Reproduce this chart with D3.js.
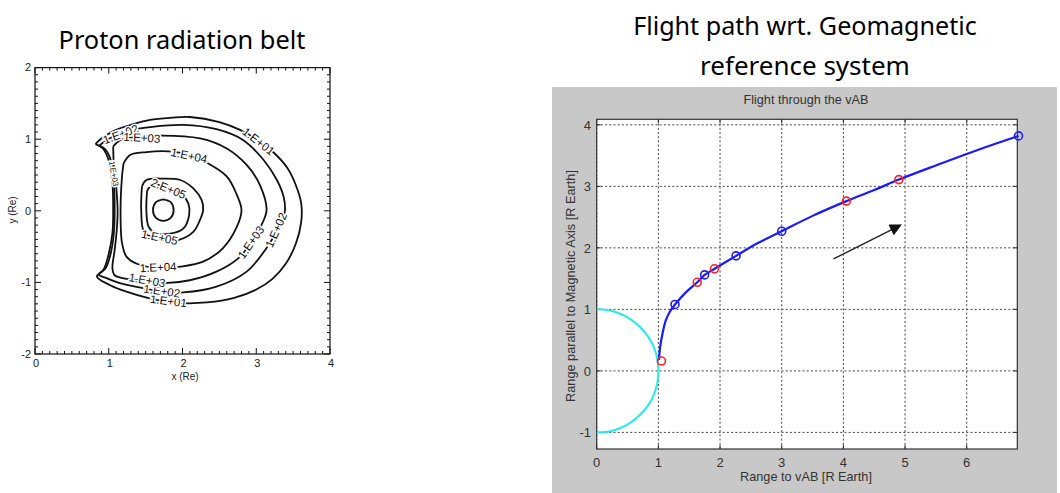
<!DOCTYPE html>
<html><head><meta charset="utf-8">
<script src="https://cdn.jsdelivr.net/npm/d3@7"></script>
<style>body{margin:0;background:#fff}svg{display:block}</style>
</head><body><svg id="c" width="1060" height="493"></svg>
<script>
// ---------------- DATA ----------------
// Left chart: proton radiation belt contours (x, y in Re)
const leftXTicks = [0, 1, 2, 3, 4];
const leftYTicks = [-2, -1, 0, 1, 2];
const contour1E01 = [[0.82,0.93],[0.90,1.01],[1.10,1.13],[1.33,1.21],[1.56,1.27],[1.85,1.30],[2.10,1.31],[2.50,1.24],[2.78,1.13],[3.03,0.98],[3.25,0.80],[3.42,0.60],[3.54,0.35],[3.61,0.10],[3.61,-0.15],[3.54,-0.45],[3.40,-0.74],[3.22,-0.95],[3.00,-1.10],[2.69,-1.22],[2.33,-1.28],[2.00,-1.29],[1.80,-1.27],[1.54,-1.22],[1.24,-1.13],[1.02,-1.04],[0.84,-0.92],[0.93,-0.82],[1.00,-0.60],[1.05,-0.31],[1.06,0.00],[1.05,0.38],[1.00,0.70],[0.92,0.87],[0.82,0.93]];
const contour1E02 = [[0.87,0.91],[0.95,0.97],[1.05,1.03],[1.16,1.08],[1.30,1.13],[1.56,1.17],[2.01,1.20],[2.46,1.14],[2.82,0.99],[3.10,0.71],[3.28,0.43],[3.37,0.20],[3.39,0.01],[3.36,-0.12],[3.27,-0.30],[3.14,-0.52],[2.87,-0.85],[2.46,-1.06],[2.01,-1.14],[1.72,-1.13],[1.46,-1.08],[1.15,-1.01],[0.97,-0.94],[0.87,-0.89],[0.96,-0.80],[1.03,-0.58],[1.07,-0.30],[1.08,0.00],[1.07,0.38],[1.03,0.70],[0.95,0.86],[0.87,0.91]];
const contour1E03 = [[1.06,0.90],[1.18,1.00],[1.45,1.03],[1.69,1.05],[2.24,1.01],[2.60,0.87],[2.87,0.64],[3.05,0.36],[3.14,0.01],[3.07,-0.20],[2.93,-0.44],[2.76,-0.66],[2.46,-0.85],[2.10,-0.97],[1.74,-1.01],[1.52,-0.98],[1.24,-0.95],[1.08,-0.90],[1.05,-0.80],[1.08,-0.55],[1.11,-0.25],[1.12,0.01],[1.10,0.35],[1.07,0.62],[1.06,0.90]];
const contour1E04 = [[1.20,0.66],[1.29,0.78],[1.51,0.82],[1.81,0.83],[2.09,0.78],[2.35,0.66],[2.60,0.48],[2.73,0.24],[2.80,0.01],[2.73,-0.24],[2.55,-0.52],[2.28,-0.71],[1.97,-0.78],[1.67,-0.80],[1.38,-0.74],[1.24,-0.64],[1.18,-0.45],[1.16,0.01],[1.18,0.48],[1.20,0.66]];
const contour1E05 = [[1.45,0.34],[1.51,0.43],[1.74,0.45],[1.97,0.43],[2.15,0.31],[2.26,0.15],[2.28,0.01],[2.24,-0.12],[2.15,-0.29],[1.94,-0.41],[1.80,-0.42],[1.62,-0.38],[1.48,-0.30],[1.44,0.01],[1.45,0.34]];
const contour2E05 = [[1.52,0.28],[1.60,0.37],[1.81,0.31],[2.00,0.22],[2.08,0.10],[2.09,-0.06],[2.01,-0.25],[1.83,-0.32],[1.63,-0.31],[1.54,-0.22],[1.51,0.01],[1.52,0.28]];
const contourCore = [[1.74,0.16],[1.84,0.12],[1.88,0.01],[1.84,-0.10],[1.74,-0.14],[1.64,-0.10],[1.60,0.01],[1.64,0.12],[1.74,0.16]];
const contourLabels = [
  ["1.E+01", 3.03, 0.97, 38], ["1.E+01", 1.81, -1.26, 7],
  ["1.E+02", 1.16, 1.07, -20], ["1.E+02", 3.27, -0.27, -66], ["1.E+02", 1.72, -1.12, 8],
  ["1.E+03", 1.45, 1.02, 3], ["1.E+03", 2.93, -0.44, -55], ["1.E+03", 1.52, -0.97, 10], ["1.E+03", 1.07, 0.52, 80],
  ["1.E+04", 2.09, 0.77, 12], ["1.E+04", 1.67, -0.79, -3],
  ["2.E+05", 1.81, 0.31, 22], ["1.E+05", 1.69, -0.37, 12]
];
// Right chart: flight through the vAB
const rightXTicks = [0, 1, 2, 3, 4, 5, 6];
const rightYTicks = [-1, 0, 1, 2, 3, 4];
const flightPath = [[1.01,0.18],[1.03,0.40],[1.07,0.62],[1.12,0.82],[1.19,0.97],[1.27,1.08],[1.45,1.28],[1.63,1.44],[1.75,1.56],[1.91,1.66],[2.26,1.87],[2.60,2.07],[3.00,2.27],[3.50,2.52],[4.05,2.76],[4.50,2.94],[4.90,3.11],[5.50,3.34],[6.20,3.60],[6.84,3.82]];
const blueMarkers = [[1.27,1.08],[1.75,1.56],[2.26,1.87],[3.00,2.27],[6.84,3.82]];
const redMarkers = [[1.05,0.16],[1.63,1.44],[1.91,1.66],[4.05,2.76],[4.90,3.11]];
const directionArrow = [[3.84,1.82],[4.93,2.37]];
const earthRadius = 1;

// ---------------- DRAW ----------------
const svg = d3.select('#c');
function fit(t, w) {
  const cur = t.node().getComputedTextLength();
  t.attr('font-size', parseFloat(t.attr('font-size')) * w / cur);
}

// ---- Left chart ----
const lx = d3.scaleLinear().domain([0, 4]).range([35, 330]);
const ly = d3.scaleLinear().domain([-2, 2]).range([354, 67.6]);
const L = svg.append('g');
fit(L.append('text').attr('x', 182).attr('y', 49).attr('text-anchor', 'middle')
  .attr('font-family', 'Noto Sans').attr('font-size', 22).attr('fill', '#000')
  .text('Proton radiation belt'), 247);

// ticks (minor every 0.1, major every 1) inward on all four sides
const minorX = d3.range(0, 4.0001, 0.1), minorY = d3.range(-2, 2.0001, 0.1);
const tk = L.append('g').attr('stroke', '#111').attr('stroke-width', 1);
minorX.forEach(v => {
  const major = Math.abs(v - Math.round(v)) < 1e-6, len = major ? 6 : 3;
  tk.append('line').attr('x1', lx(v)).attr('x2', lx(v)).attr('y1', ly(-2)).attr('y2', ly(-2) - len);
  tk.append('line').attr('x1', lx(v)).attr('x2', lx(v)).attr('y1', ly(2)).attr('y2', ly(2) + len);
});
minorY.forEach(v => {
  const major = Math.abs(v - Math.round(v)) < 1e-6, len = major ? 6 : 3;
  tk.append('line').attr('y1', ly(v)).attr('y2', ly(v)).attr('x1', lx(0)).attr('x2', lx(0) + len);
  tk.append('line').attr('y1', ly(v)).attr('y2', ly(v)).attr('x1', lx(4)).attr('x2', lx(4) - len);
});
L.append('rect').attr('x', lx(0)).attr('y', ly(2)).attr('width', lx(4) - lx(0)).attr('height', ly(-2) - ly(2))
  .attr('fill', 'none').attr('stroke', '#111').attr('stroke-width', 1.2);
L.append('g').selectAll('text').data(leftXTicks).join('text')
  .attr('x', d => lx(d) + 1).attr('y', ly(-2) + 13).attr('text-anchor', 'middle')
  .attr('font-family', 'Liberation Sans').attr('font-size', 11).attr('fill', '#222').text(d => d);
L.append('g').selectAll('text').data(leftYTicks).join('text')
  .attr('x', lx(0) - 4).attr('y', d => ly(d)).attr('dy', '0.35em').attr('text-anchor', 'end')
  .attr('font-family', 'Liberation Sans').attr('font-size', 11).attr('fill', '#222').text(d => d);
L.append('text').attr('x', 185).attr('y', 380).attr('text-anchor', 'middle')
  .attr('font-family', 'Liberation Sans').attr('font-size', 10).attr('fill', '#222').text('x (Re)');
L.append('text').attr('transform', 'translate(16,210) rotate(-90)').attr('text-anchor', 'middle')
  .attr('font-family', 'Liberation Sans').attr('font-size', 10).attr('fill', '#222').text('y (Re)');

const cl = d3.line().x(d => lx(d[0])).y(d => ly(d[1])).curve(d3.curveCatmullRom.alpha(0.5));
const contours = [contour1E01, contour1E02, contour1E03, contour1E04, contour1E05, contour2E05, contourCore];
L.append('g').selectAll('path').data(contours).join('path')
  .attr('d', cl).attr('fill', 'none').attr('stroke', '#111').attr('stroke-width', 1.8).attr('stroke-linejoin', 'round');
L.append('g').selectAll('text').data(contourLabels).join('text')
  .attr('transform', d => `translate(${lx(d[1])},${ly(d[2])}) rotate(${d[3]})`)
  .attr('text-anchor', 'middle').attr('dy', '0.35em')
  .attr('font-family', 'Liberation Sans').attr('font-size', d => d[3] === 80 ? 8 : 11.5)
  .attr('fill', '#111').attr('stroke', '#fff').attr('stroke-width', 3).attr('paint-order', 'stroke')
  .text(d => d[0]);

// ---- Right chart ----
const R = svg.append('g');
const tf = 'Noto Sans';
fit(R.append('text').attr('x', 805).attr('y', 35).attr('text-anchor', 'middle')
  .attr('font-family', tf).attr('font-size', 24).text('Flight path wrt. Geomagnetic'), 344);
fit(R.append('text').attr('x', 805).attr('y', 75).attr('text-anchor', 'middle')
  .attr('font-family', tf).attr('font-size', 24).text('reference system'), 210);

R.append('rect').attr('x', 552).attr('y', 87).attr('width', 505).attr('height', 406).attr('fill', '#c8c8c8');
const rx = d3.scaleLinear().domain([0, 6.82]).range([596.7, 1017.3]);
const ry = d3.scaleLinear().domain([-1.27, 4.09]).range([449, 119.3]);
R.append('rect').attr('x', rx(0)).attr('y', ry(4.09)).attr('width', rx(6.82) - rx(0)).attr('height', ry(-1.27) - ry(4.09))
  .attr('fill', '#fff');
// grid
const grid = R.append('g').attr('stroke', '#444').attr('stroke-width', 1).attr('stroke-dasharray', '2,2.2');
rightXTicks.forEach(v => grid.append('line').attr('x1', rx(v)).attr('x2', rx(v)).attr('y1', ry(-1.27)).attr('y2', ry(4.09)));
rightYTicks.forEach(v => grid.append('line').attr('y1', ry(v)).attr('y2', ry(v)).attr('x1', rx(0)).attr('x2', rx(6.82)));
// ticks inward
const tg = R.append('g').attr('stroke', '#222').attr('stroke-width', 1);
rightXTicks.forEach(v => {
  tg.append('line').attr('x1', rx(v)).attr('x2', rx(v)).attr('y1', ry(-1.27)).attr('y2', ry(-1.27) - 4);
  tg.append('line').attr('x1', rx(v)).attr('x2', rx(v)).attr('y1', ry(4.09)).attr('y2', ry(4.09) + 4);
});
rightYTicks.forEach(v => {
  tg.append('line').attr('y1', ry(v)).attr('y2', ry(v)).attr('x1', rx(0)).attr('x2', rx(0) + 4);
  tg.append('line').attr('y1', ry(v)).attr('y2', ry(v)).attr('x1', rx(6.82)).attr('x2', rx(6.82) - 4);
});
R.append('rect').attr('x', rx(0)).attr('y', ry(4.09)).attr('width', rx(6.82) - rx(0)).attr('height', ry(-1.27) - ry(4.09))
  .attr('fill', 'none').attr('stroke', '#333').attr('stroke-width', 1.2);
// tick labels
R.append('g').selectAll('text').data(rightXTicks).join('text')
  .attr('x', d => rx(d)).attr('y', 467).attr('text-anchor', 'middle')
  .attr('font-family', 'Liberation Sans').attr('font-size', 13).attr('fill', '#333').text(d => d);
R.append('g').selectAll('text').data(rightYTicks).join('text')
  .attr('x', 591).attr('y', d => ry(d)).attr('dy', '0.36em').attr('text-anchor', 'end')
  .attr('font-family', 'Liberation Sans').attr('font-size', 13).attr('fill', '#333').text(d => d);
fit(R.append('text').attr('x', 806).attr('y', 104).attr('text-anchor', 'middle')
  .attr('font-family', 'Liberation Sans').attr('font-size', 12).attr('fill', '#333').text('Flight through the vAB'), 125);
fit(R.append('text').attr('x', 806).attr('y', 481).attr('text-anchor', 'middle')
  .attr('font-family', 'Liberation Sans').attr('font-size', 12).attr('fill', '#333').text('Range to vAB [R Earth]'), 132);
fit(R.append('text').attr('transform', 'translate(575,286) rotate(-90)').attr('text-anchor', 'middle')
  .attr('font-family', 'Liberation Sans').attr('font-size', 12).attr('fill', '#333').text('Range parallel to Magnetic Axis [R Earth]'), 232);

// Earth (cyan half circle)
const ep = d3.path();
ep.arc(rx(0), ry(0), rx(earthRadius) - rx(0), -Math.PI / 2, Math.PI / 2, false);
R.append('path').attr('d', ep.toString()).attr('fill', 'none').attr('stroke', '#22eaf0').attr('stroke-width', 2);
// flight path
R.append('path').datum(flightPath)
  .attr('d', d3.line().x(d => rx(d[0])).y(d => ry(d[1])).curve(d3.curveCatmullRom.alpha(0.5)))
  .attr('fill', 'none').attr('stroke', '#1a1aff').attr('stroke-width', 2.2);
R.append('g').selectAll('circle').data(blueMarkers).join('circle')
  .attr('cx', d => rx(d[0])).attr('cy', d => ry(d[1])).attr('r', 4)
  .attr('fill', 'none').attr('stroke', '#2020ee').attr('stroke-width', 1.6);
R.append('g').selectAll('circle').data(redMarkers).join('circle')
  .attr('cx', d => rx(d[0])).attr('cy', d => ry(d[1])).attr('r', 4)
  .attr('fill', 'none').attr('stroke', '#ff2020').attr('stroke-width', 1.6);
// arrow
svg.append('defs').append('marker').attr('id', 'ah').attr('viewBox', '0 0 10 10').attr('refX', 9).attr('refY', 5)
  .attr('markerWidth', 14).attr('markerHeight', 12).attr('markerUnits', 'userSpaceOnUse').attr('orient', 'auto')
  .append('path').attr('d', 'M0,0 L10,5 L0,10 z').attr('fill', '#111');
R.append('line').attr('x1', rx(directionArrow[0][0])).attr('y1', ry(directionArrow[0][1]))
  .attr('x2', rx(directionArrow[1][0])).attr('y2', ry(directionArrow[1][1]))
  .attr('stroke', '#222').attr('stroke-width', 1.4).attr('marker-end', 'url(#ah)');
</script></body></html>
